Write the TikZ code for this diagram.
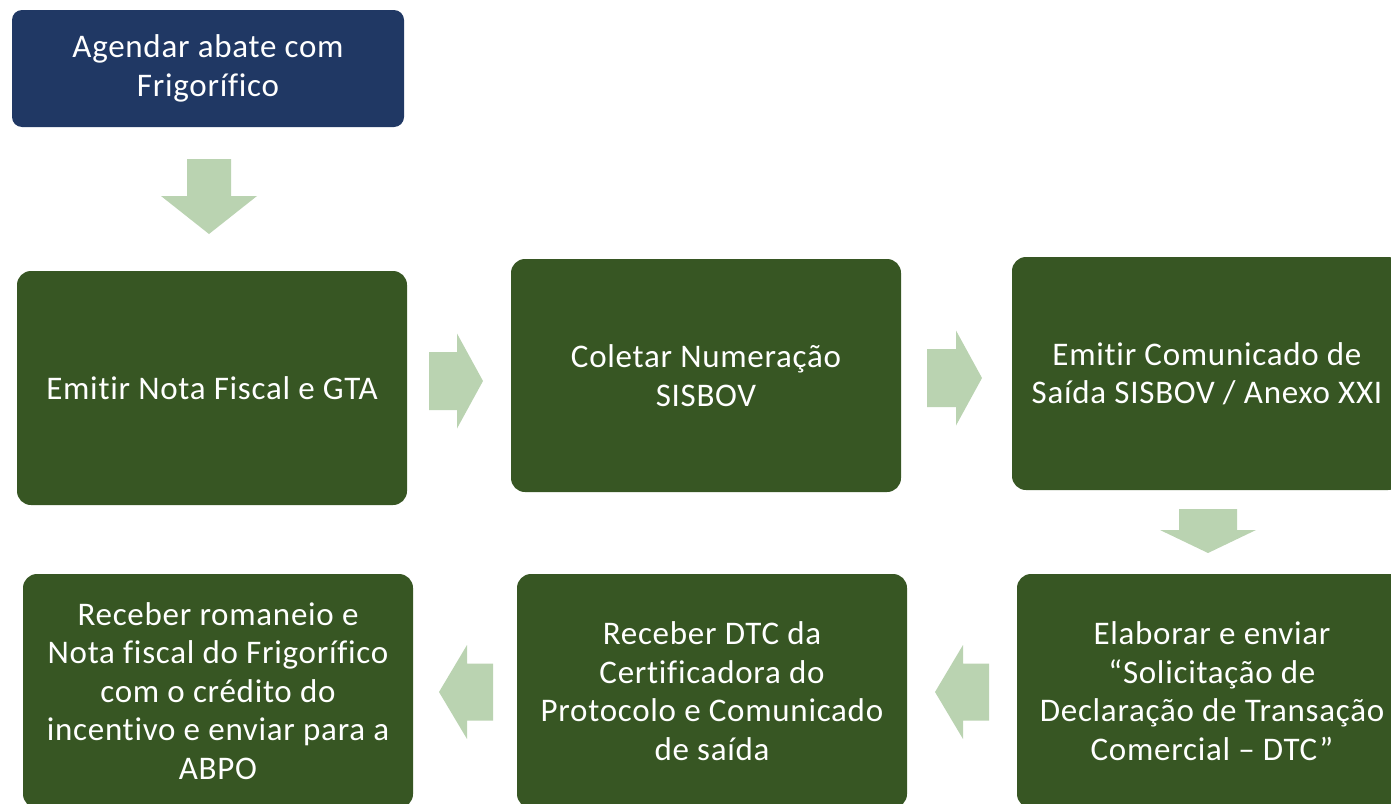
\documentclass[tikz,border=0pt]{standalone}
\usepackage{fontspec}
\setmainfont{Carlito}[Ligatures=NoCommon, LetterSpace=2.2]
\usetikzlibrary{calc}
\definecolor{navy}{HTML}{203864}
\definecolor{boxgreen}{HTML}{375623}
\definecolor{arrowgreen}{HTML}{BAD3B1}
\tikzset{
  box/.style={fill=boxgreen, rounded corners=14pt, text=white, align=center,
    font=\fontsize{33}{38.5}\selectfont, minimum width=390pt, minimum height=234pt, inner sep=0pt},
  topbox/.style={box, fill=navy, rounded corners=10pt, minimum width=392pt, minimum height=117pt},
  arrowfill/.style={fill=arrowgreen, draw=none}
}
% #1 center, #2 angle, #3 length, #4 shaft width, #5 head width, #6 head length
\newcommand\blockarrow[6]{%
  \fill[arrowfill, shift={#1}, rotate=#2]
    (-#3/2, -#4/2) -- ({#3/2-#6}, -#4/2) -- ({#3/2-#6}, -#5/2) -- (#3/2, 0pt)
    -- ({#3/2-#6}, #5/2) -- ({#3/2-#6}, #4/2) -- (-#3/2, #4/2) -- cycle;}
\begin{document}
\begin{tikzpicture}[x=1pt, y=-1pt]
\useasboundingbox (0,0) rectangle (1391,803);
\clip (0,0) rectangle (1391,803);
\node[topbox] (b0) at (208,68.5) {Agendar abate com\\Frigorífico};
\node[box] (b1) at (212,388) {Emitir Nota Fiscal e GTA};
\node[box, minimum height=233pt] (b2) at (706,375.5) {Coletar Numeração\\SISBOV};
\node[box, minimum height=233pt] (b3) at (1207,373.5) {Emitir Comunicado de\\Saída SISBOV / Anexo XXI};
\node[box] (b4) at (1212,691) {Elaborar e enviar\\“Solicitação de\\Declaração de Transação\\Comercial – DTC”};
\node[box] (b5) at (712,691) {Receber DTC da\\Certificadora do\\Protocolo e Comunicado\\de saída};
\node[box] (b6) at (218,691) {Receber romaneio e\\Nota fiscal do Frigorífico\\com o crédito do\\incentivo e enviar para a\\ABPO};
% block arrows between the steps
\blockarrow{(209,196.5)}{-90}{75pt}{44pt}{96pt}{38pt}
\blockarrow{(456,381)}{0}{54pt}{58pt}{95pt}{26pt}
\blockarrow{(954.5,378)}{0}{55pt}{58pt}{95pt}{26pt}
\blockarrow{(1208,531)}{-90}{44pt}{58pt}{96pt}{23pt}
\blockarrow{(962,692)}{180}{54pt}{57pt}{94pt}{28pt}
\blockarrow{(466,692)}{180}{54pt}{57pt}{94pt}{28pt}
\end{tikzpicture}
\end{document}
